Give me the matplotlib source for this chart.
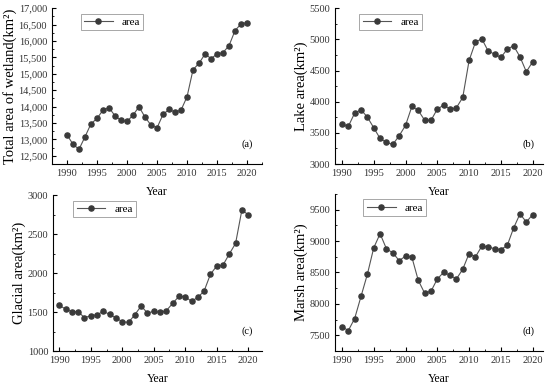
import matplotlib
matplotlib.use("Agg")
import matplotlib.pyplot as plt
import matplotlib.ticker as mtick
import numpy as np

plt.rcParams['font.family'] = ['Liberation Serif', 'DejaVu Serif']

years = list(range(1990, 2021))

# total wetland area (km2)
wetland = [13140, 12855, 12700, 13080, 13477, 13640, 13894, 13966, 13721, 13579,
           13548, 13741, 13996, 13680, 13436, 13354, 13762, 13915, 13833, 13894,
           14301, 15126, 15320, 15605, 15462, 15605, 15646, 15860, 16318, 16521,
           16562]
# lake area (km2)
lake = [3641, 3604, 3817, 3871, 3753, 3582, 3411, 3347, 3315, 3454,
        3620, 3924, 3860, 3705, 3700, 3881, 3945, 3881, 3903, 4068,
        4661, 4955, 5009, 4811, 4763, 4709, 4843, 4896, 4720, 4480,
        4640]
# glacial area (km2)
glacial = [1585, 1538, 1504, 1504, 1427, 1453, 1466, 1508, 1470, 1423,
           1376, 1367, 1466, 1577, 1487, 1508, 1496, 1517, 1611, 1701,
           1696, 1637, 1688, 1769, 1983, 2090, 2102, 2244, 2380, 2808,
           2748]
# marsh area (km2)
marsh = [7639, 7575, 7767, 8119, 8471, 8892, 9116, 8876, 8812, 8689,
         8759, 8743, 8375, 8172, 8199, 8396, 8503, 8455, 8396, 8551,
         8801, 8748, 8919, 8908, 8876, 8865, 8929, 9207, 9431, 9303,
         9420]

fig = plt.figure(figsize=(5.5, 3.87), dpi=100)

# panel settings: data, ylabel, tag, axes rect, xlim, ylim, yticks, legend x offset
panels = [
    (wetland, 'Total area of wetland(km²)', '(a)', [0.0945, 0.576, 0.382, 0.403],
     (1987.5, 2022.5), (12250, 17000), np.arange(12500, 17001, 500), 0.11),
    (lake, 'Lake area(km²)', '(b)', [0.609, 0.576, 0.378, 0.403],
     (1988.9, 2021.6), (3000, 5500), np.arange(3000, 5501, 500), 0.09),
    (glacial, 'Glacial area(km²)', '(c)', [0.0964, 0.093, 0.38, 0.403],
     (1989, 2022.2), (1000, 3000), np.arange(1000, 3001, 500), 0.07),
    (marsh, 'Marsh area(km²)', '(d)', [0.609, 0.093, 0.378, 0.406],
     (1988.9, 2021.6), (7250, 9750), np.arange(7500, 9501, 500), 0.11),
]

for data, ylab, tag, rect, xl, yl, yt, lx in panels:
    ax = fig.add_axes(rect)
    ax.patch.set_alpha(0)
    ax.plot(years, data, '-o', color='#555555', lw=0.8, ms=3.7,
            mfc='#3a3a3a', mec='#3a3a3a', label='area')
    ax.set_xlim(*xl)
    ax.set_ylim(*yl)
    ax.set_xticks(range(1990, 2021, 5))
    ax.set_yticks(yt)
    if tag == '(a)':
        ax.yaxis.set_major_formatter(mtick.FuncFormatter(lambda v, p: '{:,.0f}'.format(v)))
    ax.xaxis.set_minor_locator(mtick.MultipleLocator(2.5))
    ax.yaxis.set_minor_locator(mtick.MultipleLocator(250))
    ax.spines['top'].set_visible(False)
    ax.spines['right'].set_visible(False)
    ax.tick_params(which='both', direction='in', labelsize=7.5, labelcolor='#333333')
    ax.tick_params(which='major', length=3)
    ax.tick_params(which='minor', length=1.5)
    ax.set_ylabel(ylab, fontsize=10.5, labelpad=1)
    ax.set_xlabel('Year', fontsize=8.5, labelpad=6)
    ax.text(0.93, 0.11, tag, transform=ax.transAxes, fontsize=7.5, ha='center')
    leg = ax.legend(loc='upper left', bbox_to_anchor=(lx, 1.0), fontsize=8,
                    handlelength=2.6, borderpad=0.3, fancybox=False,
                    edgecolor='#999999', framealpha=1)
    leg.get_frame().set_linewidth(0.6)

fig.savefig('out.png', dpi=100)
